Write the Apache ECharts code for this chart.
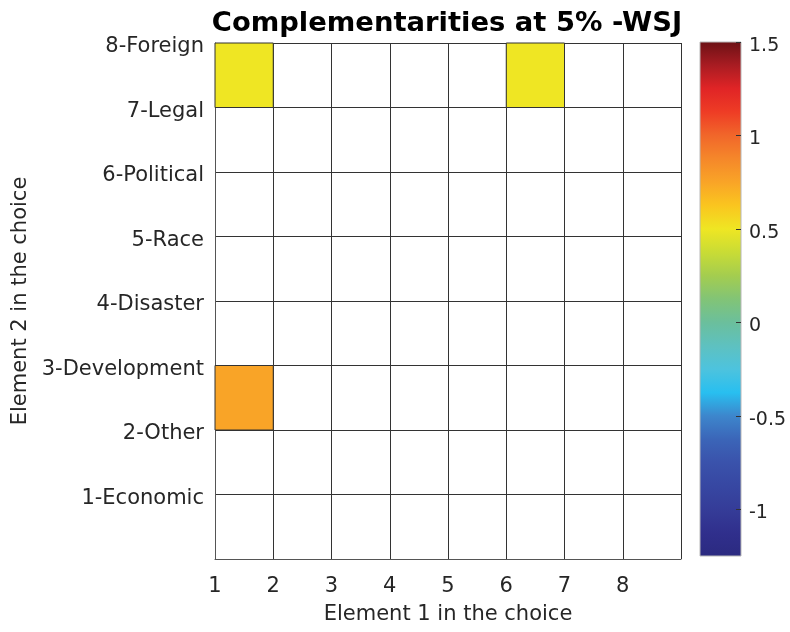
<!DOCTYPE html>
<html>
<head>
<meta charset="utf-8">
<script src="https://cdn.jsdelivr.net/npm/echarts@6/dist/echarts.min.js"></script>
<style>
  html, body { margin: 0; padding: 0; background: #fff; }
  #chart { width: 790px; height: 632px; }
</style>
</head>
<body>
<div id="chart"></div>
<script>
// Element 2 categories (row labels, bottom to top)
const yLabels = ['1-Economic', '2-Other', '3-Development', '4-Disaster', '5-Race', '6-Political', '7-Legal', '8-Foreign'];
// Element 1 tick labels
const xLabels = ['1', '2', '3', '4', '5', '6', '7', '8'];

// Significant pairs: lower-left corner of each cell and its value
const cellX = [1, 6, 1];
const cellY = [7, 7, 2];
const cellValue = [0.5, 0.5, 0.75];

// Colour scale range and its labelled ticks
const cbarMin = -1.25;
const cbarMax = 1.5;
const cbarTicks = [-1, -0.5, 0, 0.5, 1, 1.5];

// Colormap, evenly spaced from cbarMin to cbarMax
const cmapColors = [
  '#2b2a80', '#302f8c', '#353c98', '#3747a2', '#3a52ab', '#3b65b8',
  '#3d86cc', '#28bff0', '#4dc3de', '#5ec1c0', '#6bbf9c', '#82c476',
  '#a4cd4f', '#c9dc35', '#efe623', '#fac51f', '#f9a427', '#f5872a',
  '#f1662a', '#ee3c25', '#e02426', '#a81c22', '#6c1115'
];

const cells = cellX.map((x, i) => [x, cellY[i], cellValue[i]]);

const FONT = 'DejaVu Sans';
const TXT = '#262626';

const chart = echarts.init(document.getElementById('chart'), null, { renderer: 'canvas' });

chart.setOption({
  backgroundColor: '#fff',
  animation: false,
  title: {
    text: 'Complementarities at 5% -WSJ',
    left: 442,
    top: 5,
    textAlign: 'center',
    textStyle: { fontFamily: FONT, fontWeight: 'bold', fontSize: 27.4, color: '#000' }
  },
  grid: [
    { left: 215, right: 109, top: 43, bottom: 73 },
    { left: 700, width: 41, top: 42, bottom: 76 }
  ],
  xAxis: [
    {
      type: 'value', gridIndex: 0, min: 1, max: 9, interval: 1,
      name: 'Element 1 in the choice', nameLocation: 'middle', nameGap: 45,
      nameTextStyle: { fontFamily: FONT, fontSize: 21, color: TXT },
      axisLine: { show: true, lineStyle: { color: '#555', width: 1 } },
      axisTick: { show: false },
      axisLabel: {
        margin: 17, fontFamily: FONT, fontSize: 21, color: TXT,
        formatter: v => (v >= 1 && v <= xLabels.length ? xLabels[v - 1] : '')
      },
      splitLine: { show: true, lineStyle: { color: '#333', width: 1 } }
    },
    {
      type: 'value', gridIndex: 1, min: 0, max: 1, show: false
    }
  ],
  yAxis: [
    {
      type: 'value', gridIndex: 0, min: 0, max: 8, interval: 1,
      name: 'Element 2 in the choice', nameLocation: 'middle', nameGap: 175,
      nameTextStyle: { fontFamily: FONT, fontSize: 21, color: TXT },
      axisLine: { show: true, lineStyle: { color: '#555', width: 1 } },
      axisTick: { show: false },
      axisLabel: {
        margin: 11, fontFamily: FONT, fontSize: 21, color: TXT,
        verticalAlign: 'top', lineHeight: 8,
        formatter: v => (v >= 1 && v <= yLabels.length ? yLabels[v - 1] : '')
      },
      splitLine: { show: true, lineStyle: { color: '#333', width: 1 } }
    },
    {
      type: 'value', gridIndex: 1, min: cbarMin, max: cbarMax, position: 'right',
      axisLine: { show: false },
      axisTick: { show: false },
      axisLabel: {
        show: true, margin: 8, fontFamily: FONT, fontSize: 19, color: TXT,
        verticalAlign: 'top', lineHeight: 8,
        customValues: cbarTicks,
        formatter: v => String(v)
      },
      splitLine: { show: false }
    }
  ],
  visualMap: {
    type: 'continuous', show: false, seriesIndex: 0, dimension: 2,
    min: cbarMin, max: cbarMax,
    inRange: { color: cmapColors }
  },
  series: [
    {
      // coloured cells of the pair matrix
      type: 'custom',
      xAxisIndex: 0, yAxisIndex: 0,
      data: cells,
      renderItem: function (params, api) {
        const x0 = api.value(0), y0 = api.value(1);
        const p1 = api.coord([x0, y0 + 1]);
        const p2 = api.coord([x0 + 1, y0]);
        return {
          type: 'rect',
          shape: { x: p1[0], y: p1[1], width: p2[0] - p1[0], height: p2[1] - p1[1] },
          style: { fill: api.visual('color'), stroke: '#333', lineWidth: 1 }
        };
      }
    },
    {
      // colour bar with inward ticks on its right edge
      type: 'custom',
      xAxisIndex: 1, yAxisIndex: 1,
      data: [[0, cbarMin, cbarMax]],
      silent: true,
      renderItem: function (params, api) {
        const top = api.coord([0, api.value(2)]);
        const bot = api.coord([1, api.value(1)]);
        const stops = cmapColors.map((c, i) => ({ offset: i / (cmapColors.length - 1), color: c }));
        const children = [{
          type: 'rect',
          shape: { x: top[0], y: top[1], width: bot[0] - top[0], height: bot[1] - top[1] },
          style: {
            fill: new echarts.graphic.LinearGradient(0, 1, 0, 0, stops),
            stroke: '#b8b8b8', lineWidth: 1
          }
        }];
        cbarTicks.forEach(t => {
          const p = api.coord([1, t]);
          const y = Math.round(p[1]) + 0.5;
          children.push({
            type: 'line',
            shape: { x1: p[0] - 5, y1: y, x2: p[0], y2: y },
            style: { stroke: '#333', lineWidth: 1 }
          });
        });
        return { type: 'group', children: children };
      }
    }
  ]
});
</script>
</body>
</html>
